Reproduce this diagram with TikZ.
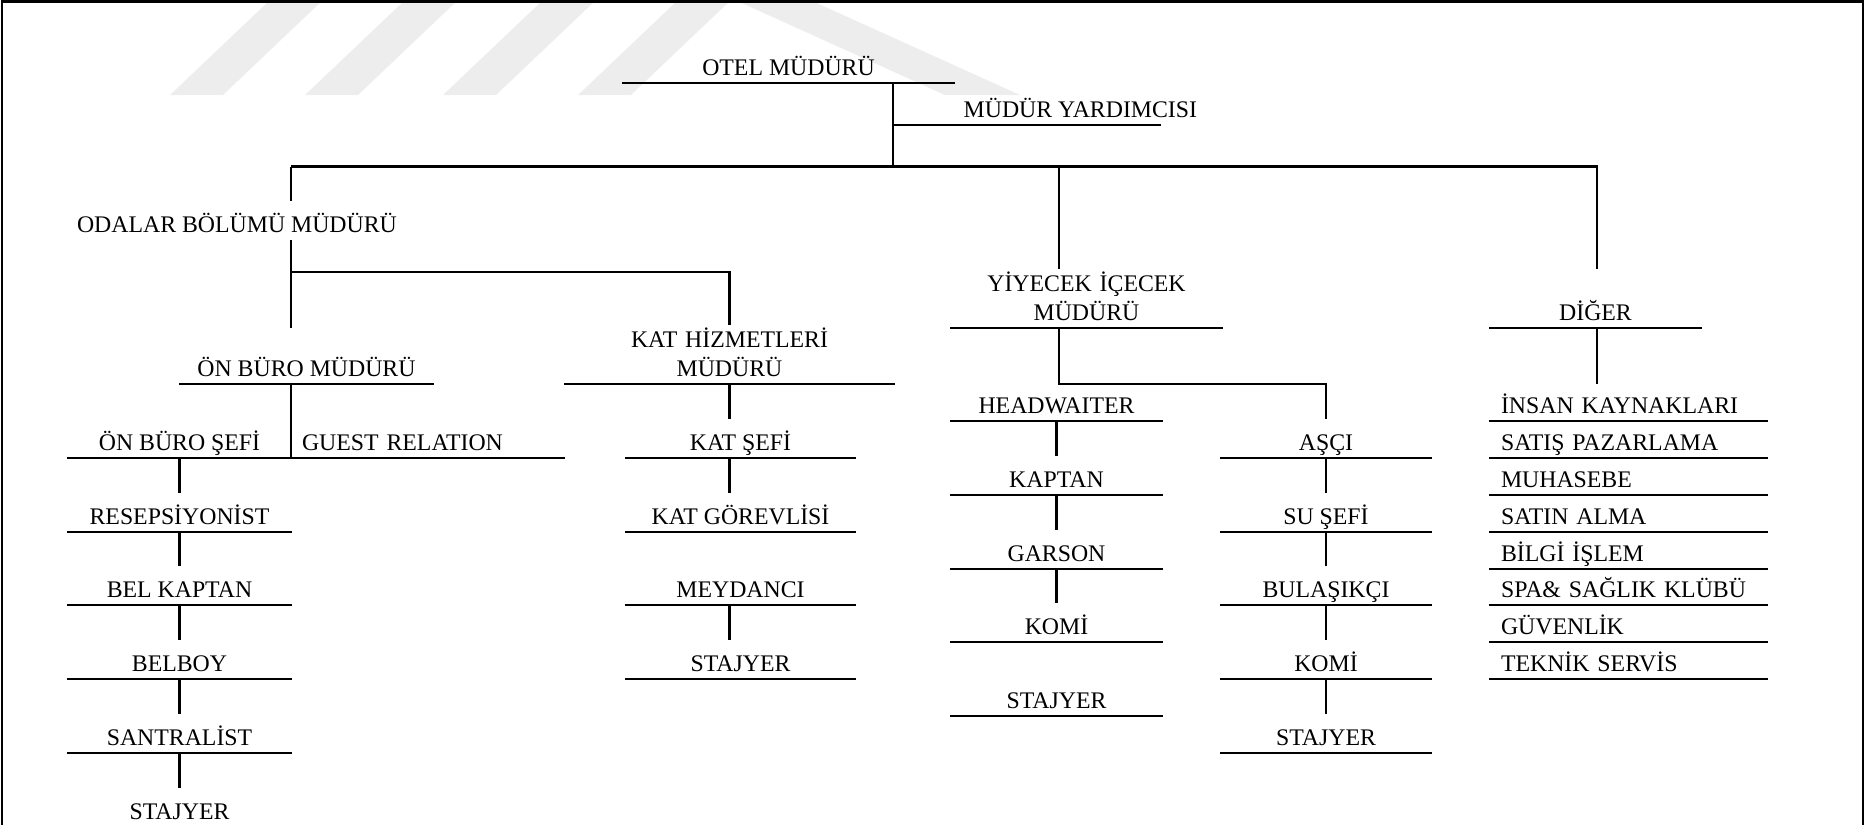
\documentclass[tikz,border=0pt]{standalone}
\usepackage{fontspec}
\setmainfont{Liberation Serif}
\usepackage{tikz}
\usetikzlibrary{positioning}

\begin{document}
\begin{tikzpicture}[
    font=\fontsize{6.77pt}{8.1pt}\selectfont,
    cizgi/.style={line width=0.62pt},
    unvan/.style={inner sep=0pt, minimum width=#1, text height=0.31cm, text depth=0.07cm, anchor=south},
    ikili/.style={inner sep=0pt, text width=#1, align=center, text height=0.22cm, text depth=0.355cm, anchor=south},
    liste/.style={inner xsep=0.11cm, inner ysep=0pt, text width=#1, align=left, text height=0.31cm, text depth=0.07cm, anchor=south},
    filigran/.style={fill=black!7}
]
    \useasboundingbox (0,0) rectangle (18.65,-8.25);

    % Filigran
    \foreach \x in {1.70,3.05,4.43,5.78}
        \fill[filigran] (\x,-0.95) -- ++(0.53,0) -- ++(1.0,0.95) -- ++(-0.53,0) -- cycle;
    \fill[filigran] (9.45,-0.95) -- (10.20,-0.95) -- (8.10,0) -- (7.35,0) -- cycle;

    % Cerceve
    \draw[line width=0.8pt] (0.02,-8.25) |- (18.63,-0.015) -- (18.63,-8.25);

    % Otel muduru ve yardimcisi
    \node[unvan=3.31cm] (otel) at (7.885,-0.83) {OTEL MÜDÜRÜ};
    \node[unvan=0pt, anchor=south west] (yardimci) at (9.63,-1.25) {MÜDÜR YARDIMCISI};

    % Baglanti noktalari
    \coordinate (ust) at (8.93,-1.665);
    \coordinate (odkol) at (2.91,-1.665);
    \coordinate (yiykol) at (10.59,-1.665);
    \coordinate (digkol) at (15.97,-1.665);
    \coordinate (odkat) at (2.91,-2.72);

    % Odalar bolumu
    \node[unvan=0pt] (odalar) at (2.37,-2.40) {ODALAR BÖLÜMÜ MÜDÜRÜ};
    \node[unvan=2.53cm] (onburo) at (3.065,-3.84) {ÖN BÜRO MÜDÜRÜ};
    \node[unvan=2.23cm] (onsef) at (1.795,-4.58) {ÖN BÜRO ŞEFİ};
    \node[liste=2.51cm] (guest) at (4.275,-4.58) {GUEST RELATION};
    \node[unvan=2.23cm] (resepsiyon) at (1.795,-5.32) {RESEPSİYONİST};
    \node[unvan=2.23cm] (belkaptan) at (1.795,-6.05) {BEL KAPTAN};
    \node[unvan=2.23cm] (belboy) at (1.795,-6.79) {BELBOY};
    \node[unvan=2.23cm] (santral) at (1.795,-7.53) {SANTRALİST};
    \node[unvan=2.23cm] (stajA) at (1.795,-8.27) {STAJYER};

    % Kat hizmetleri
    \node[ikili=3.29cm] (kathiz) at (7.295,-3.84) {KAT HİZMETLERİ\\MÜDÜRÜ};
    \node[unvan=2.29cm] (katsef) at (7.405,-4.58) {KAT ŞEFİ};
    \node[unvan=2.29cm] (katgorev) at (7.405,-5.32) {KAT GÖREVLİSİ};
    \node[unvan=2.29cm] (meydanci) at (7.405,-6.05) {MEYDANCI};
    \node[unvan=2.29cm] (stajB) at (7.405,-6.79) {STAJYER};

    % Yiyecek icecek
    \node[ikili=2.71cm] (yiyecek) at (10.865,-3.28) {YİYECEK İÇECEK\\MÜDÜRÜ};
    \node[unvan=2.11cm] (headw) at (10.565,-4.21) {HEADWAITER};
    \node[unvan=2.11cm] (kaptan) at (10.565,-4.95) {KAPTAN};
    \node[unvan=2.11cm] (garson) at (10.565,-5.69) {GARSON};
    \node[unvan=2.11cm] (komiA) at (10.565,-6.42) {KOMİ};
    \node[unvan=2.11cm] (stajC) at (10.565,-7.16) {STAJYER};
    \node[unvan=2.10cm] (asci) at (13.26,-4.58) {AŞÇI};
    \node[unvan=2.10cm] (susef) at (13.26,-5.32) {SU ŞEFİ};
    \node[unvan=2.10cm] (bulasik) at (13.26,-6.05) {BULAŞIKÇI};
    \node[unvan=2.10cm] (komiB) at (13.26,-6.79) {KOMİ};
    \node[unvan=2.10cm] (stajD) at (13.26,-7.53) {STAJYER};

    % Diger
    \node[unvan=2.11cm] (diger) at (15.955,-3.28) {DİĞER};
    \node[liste=2.55cm] (ik) at (16.285,-4.21) {İNSAN KAYNAKLARI};
    \node[liste=2.55cm] (satis) at (16.285,-4.58) {SATIŞ PAZARLAMA};
    \node[liste=2.55cm] (muhasebe) at (16.285,-4.95) {MUHASEBE};
    \node[liste=2.55cm] (satin) at (16.285,-5.32) {SATIN ALMA};
    \node[liste=2.55cm] (bilgi) at (16.285,-5.69) {BİLGİ İŞLEM};
    \node[liste=2.55cm] (spa) at (16.285,-6.05) {SPA\& SAĞLIK KLÜBÜ};
    \node[liste=2.55cm] (guvenlik) at (16.285,-6.42) {GÜVENLİK};
    \node[liste=2.55cm] (teknik) at (16.285,-6.79) {TEKNİK SERVİS};

    % Alt cizgiler
    \foreach \n in {otel,onburo,onsef,guest,resepsiyon,belkaptan,belboy,santral,
                    kathiz,katsef,katgorev,meydanci,stajB,
                    yiyecek,headw,kaptan,garson,komiA,stajC,asci,susef,bulasik,komiB,stajD,
                    diger,ik,satis,muhasebe,satin,bilgi,spa,guvenlik,teknik}
        \draw[cizgi] (\n.south west) -- (\n.south east);
    \draw[cizgi] (ust |- yardimci.south) -- ([xshift=-0.37cm]yardimci.south east);

    % Ana hat
    \draw[cizgi] (otel.south -| ust) -- (ust);
    \draw[cizgi] (odkol) -- (digkol) -- (digkol |- yiyecek.north);
    \draw[cizgi] (yiykol) -- (yiykol |- yiyecek.north);

    % Odalar baglantilari
    \draw[cizgi] (odkol) -- (odkol |- odalar.north);
    \draw[cizgi] (odkol |- odalar.south) -- (odkol |- yiyecek.south);
    \draw[cizgi] (odkat) -| (kathiz.north);
    \draw[cizgi] (odkol |- onburo.south) -- (odkol |- onsef.south);

    % Kat baglantilari
    \draw[cizgi] (kathiz.south) -- (kathiz.south |- katsef.north);
    \draw[cizgi] (kathiz.south |- katsef.south) -- (kathiz.south |- katgorev.north);
    \draw[cizgi] (kathiz.south |- meydanci.south) -- (kathiz.south |- stajB.north);

    % Yiyecek ve diger baglantilari
    \draw[cizgi] (yiykol |- yiyecek.south) -- (yiykol |- onburo.south) -| (asci.north);
    \draw[cizgi] (digkol |- diger.south) -- (digkol |- onburo.south);

    % Sutunlar
    \foreach \a/\b in {onsef/resepsiyon,resepsiyon/belkaptan,belkaptan/belboy,belboy/santral,santral/stajA,
                       headw/kaptan,kaptan/garson,garson/komiA,
                       asci/susef,susef/bulasik,bulasik/komiB,komiB/stajD}
        \draw[cizgi] (\a.south) -- (\b.north);
\end{tikzpicture}
\end{document}
